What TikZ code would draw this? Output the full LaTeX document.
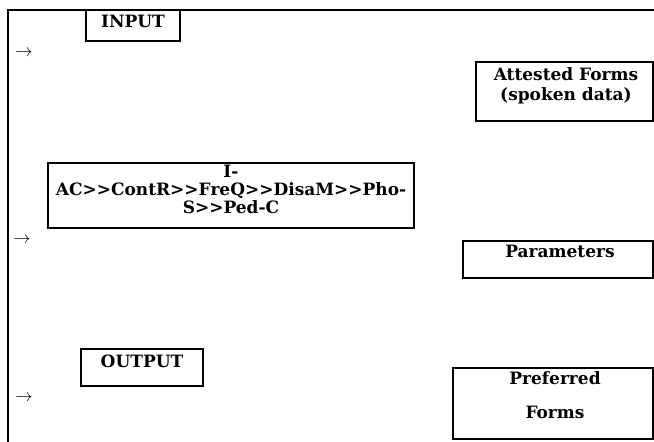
\documentclass[tikz,border=0pt]{standalone}
\usepackage{fontspec}
\setmainfont{DejaVu Serif}
\begin{document}
\begin{tikzpicture}[x=1pt, y=-1pt,
  frame/.style={draw, line width=1.1pt},
  box/.style={draw, line width=1.1pt, inner sep=0pt, outer sep=0pt, anchor=north west},
  lbl/.style={anchor=base, inner sep=0pt, font=\fontsize{17}{20}\selectfont\bfseries},
  glyph/.style={inner sep=0pt, font=\fontsize{19}{20}\selectfont}]
\useasboundingbox (0,0) rectangle (654,442);

% outer frame: left and top rules
\coordinate (fbl) at (8,442);
\coordinate (ftl) at (8,10);
\coordinate (ftr) at (654,10);
\draw[frame] (fbl) -- (ftl) -- (ftr);

% left column boxes
\node[box, minimum width=94pt, minimum height=31pt] (input) at (86,10) {};
\node[lbl] (inputtxt) at (133,27) {INPUT};

\node[box, minimum width=366pt, minimum height=65pt] (rank) at (48,163) {};
\node[lbl] (rank1) at (231,177) {I-};
\node[lbl] (rank2) at (231,195) {AC>{}>ContR>{}>FreQ>{}>DisaM>{}>Pho-};
\node[lbl] (rank3) at (231,213) {S>{}>Ped-C};

\node[box, minimum width=122pt, minimum height=37pt] (output) at (81,349) {};
\node[lbl] (outputtxt) at (142,367) {OUTPUT};

% right column boxes
\node[box, minimum width=177pt, minimum height=59pt] (attested) at (476,62) {};
\node[lbl] (att1) at (566,80) {Attested Forms};
\node[lbl] (att2) at (566,100) {(spoken data)};

\node[box, minimum width=190pt, minimum height=37pt] (params) at (463,241) {};
\node[lbl] (paramstxt) at (560,257) {Parameters};

\node[box, minimum width=200pt, minimum height=71pt] (preferred) at (453,368) {};
\node[lbl] (pref1) at (555,384) {Preferred};
\node[lbl] (pref2) at (555,418) {Forms};

% arrow glyphs on the left margin
\node[glyph] (arr1) at (24,53) {$\rightarrow$};
\node[glyph] (arr2) at (22,240) {$\rightarrow$};
\node[glyph] (arr3) at (24,398) {$\rightarrow$};
\end{tikzpicture}
\end{document}
